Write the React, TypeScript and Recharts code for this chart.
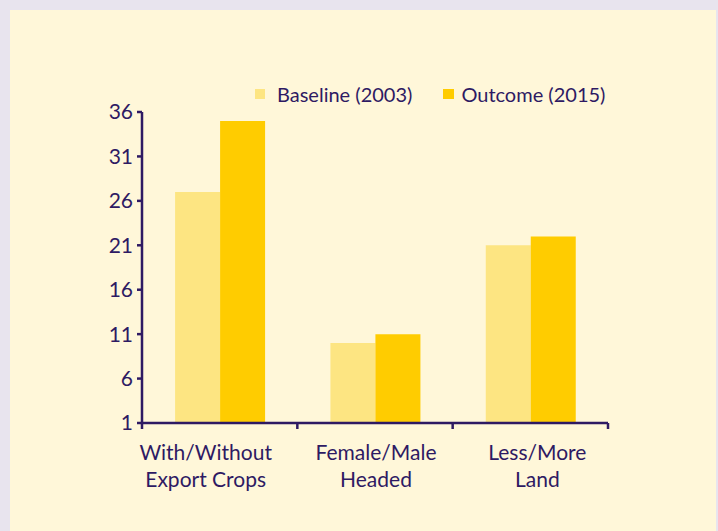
import React from 'react';
import { BarChart, Bar, XAxis, YAxis, Legend } from 'recharts';

const categories = ['With/Without\nExport Crops', 'Female/Male\nHeaded', 'Less/More\nLand'];
const baseline2003 = [27, 10, 21];
const outcome2015 = [35, 11, 22];
const yTicks = [1, 6, 11, 16, 21, 26, 31, 36];
const seriesNames = ['Baseline (2003)', 'Outcome (2015)'];

const data = categories.map((c, i) => ({
  category: c,
  baseline: baseline2003[i],
  outcome: outcome2015[i],
}));

const INK = '#2e1a63';
const FONT = 'Lato, "DejaVu Sans", sans-serif';
const C_BASE = '#fde582';
const C_OUT = '#ffcc00';
const HALF_BAND = (608 - 142) / 3 / 2;
const LABEL_SHIFT = [-14, 1, 7];

const XTick = (props: any) => {
  const { x, y, payload, index } = props;
  const lines = String(payload.value).split('\n');
  const half = payload && payload.offset ? payload.offset : HALF_BAND;
  const shift = LABEL_SHIFT[index] || 0;
  return (
    <g>
      {index === 0 && (
        <line x1={x - half} x2={x - half} y1={y} y2={y + 6} stroke={INK} strokeWidth={2.5} />
      )}
      <line x1={x + half} x2={x + half} y1={y} y2={y + 6} stroke={INK} strokeWidth={2.5} />
      {lines.map((l: string, i: number) => (
        <text key={i} x={x + shift} y={y + 37 + i * 27} textAnchor="middle" fill={INK} fontSize={21} fontFamily={FONT}>
          {l}
        </text>
      ))}
    </g>
  );
};

const LegendContent = () => (
  <div style={{ display: 'flex', alignItems: 'center', fontFamily: FONT, fontSize: 20, color: INK, whiteSpace: 'nowrap' }}>
    <span style={{ display: 'inline-block', width: 10, height: 10, background: C_BASE, marginRight: 12 }} />
    <span>{seriesNames[0]}</span>
    <span style={{ display: 'inline-block', width: 11, height: 10, background: C_OUT, marginLeft: 31, marginRight: 7 }} />
    <span>{seriesNames[1]}</span>
  </div>
);

export default function App() {
  return (
    <div style={{ position: 'absolute', left: 0, top: 0, width: 718, height: 531, background: '#e8e4ee', overflow: 'hidden' }}>
      <div style={{ position: 'absolute', left: 10, top: 10, width: 706, height: 521, background: '#fff7d9' }} />
      <div style={{ position: 'absolute', left: 0, top: 0 }}>
        <BarChart
          width={718}
          height={531}
          data={data}
          margin={{ top: 112, right: 110, bottom: 48, left: 0 }}
          barCategoryGap="21.3%"
          barGap={0}
        >
          <XAxis
            dataKey="category"
            height={60}
            axisLine={{ stroke: INK, strokeWidth: 2.5 }}
            tickLine={false}
            tickSize={0}
            tickMargin={0}
            tick={<XTick />}
            interval={0}
          />
          <YAxis
            width={142}
            domain={[1, 36]}
            ticks={yTicks}
            allowDataOverflow
            axisLine={{ stroke: INK, strokeWidth: 2.5 }}
            tickLine={{ stroke: INK, strokeWidth: 2.5 }}
            tickSize={5}
            tickMargin={4}
            tick={{ fill: INK, fontSize: 21, fontFamily: FONT }}
          />
          <Legend
            verticalAlign="middle"
            content={<LegendContent />}
            wrapperStyle={{ position: 'absolute', left: 255, top: 82, width: 'auto' }}
          />
          <Bar dataKey="baseline" name={seriesNames[0]} fill={C_BASE} isAnimationActive={false} />
          <Bar dataKey="outcome" name={seriesNames[1]} fill={C_OUT} isAnimationActive={false} />
        </BarChart>
      </div>
    </div>
  );
}
